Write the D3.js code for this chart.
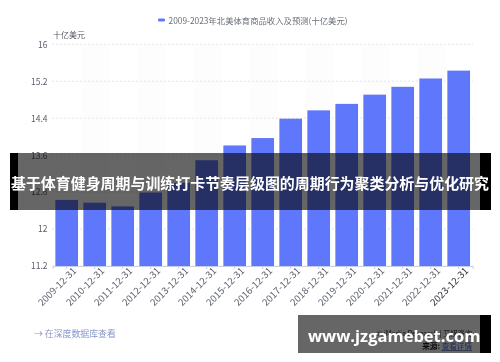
<!DOCTYPE html>
<html><head><meta charset="utf-8">
<style>html,body{margin:0;padding:0;background:#fff}svg{display:block}</style>
<script src="https://cdn.jsdelivr.net/npm/d3@7"></script></head>
<body><svg id="c" width="500" height="362"></svg>
<script>
const categories=["2009-12-31","2010-12-31","2011-12-31","2012-12-31","2013-12-31","2014-12-31","2015-12-31","2016-12-31","2017-12-31","2018-12-31","2019-12-31","2020-12-31","2021-12-31","2022-12-31","2023-12-31"];
const revenue=[12.63,12.57,12.49,12.79,13.0,13.49,13.81,13.97,14.39,14.57,14.71,14.91,15.08,15.26,15.43];
const yTicks=[11.2,12,12.8,13.6,14.4,15.2,16];
const legendLabel="2009-2023年北美体育商品收入及预测(十亿美元)";
const unitLabel="十亿美元";
const linkLabel="→ 在深度数据库查看";
const creditLabel="© iMedia Research | 艾媒咨询";
const sourceLabel="来源: ";
const sourceLink="查看详情";
const bannerTitle="基于体育健身周期与训练打卡节奏层级图的周期行为聚类分析与优化研究";
const bannerSite="www.jzgamebet.com";
const font='"Noto Sans CJK SC","Liberation Sans",sans-serif';

const svg=d3.select("#c").attr("font-family",font);
const defs=svg.append("defs");
defs.append("filter").attr("id","soft").append("feGaussianBlur").attr("stdDeviation",0.55);
defs.append("filter").attr("id","soft2").append("feGaussianBlur").attr("stdDeviation",0.3);

const x=d3.scaleBand().domain(categories).range([52.7,472.7]).paddingInner(0.19).paddingOuter(0.095);
const y=d3.scaleLinear().domain([11.2,16]).range([266,44.3]);

const g=svg.append("g").attr("filter","url(#soft)");
g.append("g").selectAll("rect").data(categories.filter((d,i)=>i%2===1)).join("rect")
 .attr("x",d=>x(d)-x.step()*0.095).attr("width",x.step()).attr("y",44).attr("height",222).attr("fill","#fdfdfd");
g.append("g").selectAll("line").data(yTicks).join("line")
 .attr("x1",52).attr("x2",473).attr("y1",d=>y(d)).attr("y2",d=>y(d))
 .attr("stroke","#e4e4e8").attr("stroke-width",1).attr("stroke-dasharray","2 2");
const ya=g.append("g").attr("transform","translate(47.5,0)").call(d3.axisLeft(y).tickValues(yTicks).tickSize(0).tickFormat(d=>String(d)));
ya.select(".domain").remove();
ya.selectAll("text").attr("font-family",font).attr("font-size",8.5).attr("fill","#5a5f6b").attr("dy","0.34em").attr("x",0);
g.append("g").selectAll("rect").data(categories).join("rect")
 .attr("x",d=>x(d)).attr("width",x.bandwidth())
 .attr("y",(d,i)=>y(revenue[i])).attr("height",(d,i)=>y(11.2)-y(revenue[i]))
 .attr("fill","#5f78fb");
const xa=g.append("g").attr("transform","translate(0,266)").call(d3.axisBottom(x).tickSize(3).tickPadding(3));
xa.select(".domain").attr("stroke","#c9cee6");
xa.selectAll("line").attr("stroke","#c9cee6");
xa.selectAll("text").attr("font-family",font).attr("font-size",9.6).attr("fill","#5f6470")
  .attr("text-anchor","end").attr("dx","0.35em").attr("dy","0.55em")
  .attr("transform","rotate(-45)")
  .filter(d=>d==="2023-12-31").attr("fill","#2f3238");
g.append("rect").attr("x",158).attr("y",18.5).attr("width",7).attr("height",3).attr("rx",1.2).attr("fill","#5f78fb");
g.append("text").attr("x",168.5).attr("y",23.5).attr("font-size",8.35).attr("fill","#6a6f7a").text(legendLabel);
g.append("text").attr("x",53).attr("y",37.5).attr("font-size",8).attr("fill","#555a64").text(unitLabel);
g.append("text").attr("x",34).attr("y",337).attr("font-size",8.9).attr("fill","#8795c8").text(linkLabel);
g.append("text").attr("x",472).attr("y",336).attr("text-anchor","end").attr("font-size",7.2).attr("fill","#333").text(creditLabel);
const src=g.append("text").attr("x",472).attr("y",349).attr("text-anchor","end").attr("font-size",7.6).attr("fill","#222");
src.append("tspan").attr("font-weight",700).text(sourceLabel);
src.append("tspan").attr("fill","#5570c8").attr("text-decoration","underline").text(sourceLink);

const over=svg.append("g");
over.append("rect").attr("x",18).attr("y",153).attr("width",462).attr("height",57).attr("fill","#000").attr("fill-opacity",0.6);
over.append("rect").attr("x",10).attr("y",153).attr("width",8).attr("height",57).attr("fill","#000");
over.append("rect").attr("x",480).attr("y",153).attr("width",11).attr("height",57).attr("fill","#000");
over.append("rect").attr("x",298).attr("y",315).attr("width",182).attr("height",38).attr("fill","#000").attr("fill-opacity",0.6);
over.append("rect").attr("x",480).attr("y",315).attr("width",11).attr("height",38).attr("fill","#000");
over.append("text").attr("x",250).attr("y",189).attr("text-anchor","middle").attr("font-size",14.95).attr("font-weight",700).attr("fill","#fff").attr("filter","url(#soft2)").text(bannerTitle);
over.append("text").attr("x",308).attr("y",342).attr("font-family","'Open Sans',sans-serif").attr("font-size",16.5).attr("font-weight",700).attr("fill","#fff").attr("filter","url(#soft2)").text(bannerSite);
</script></body></html>
